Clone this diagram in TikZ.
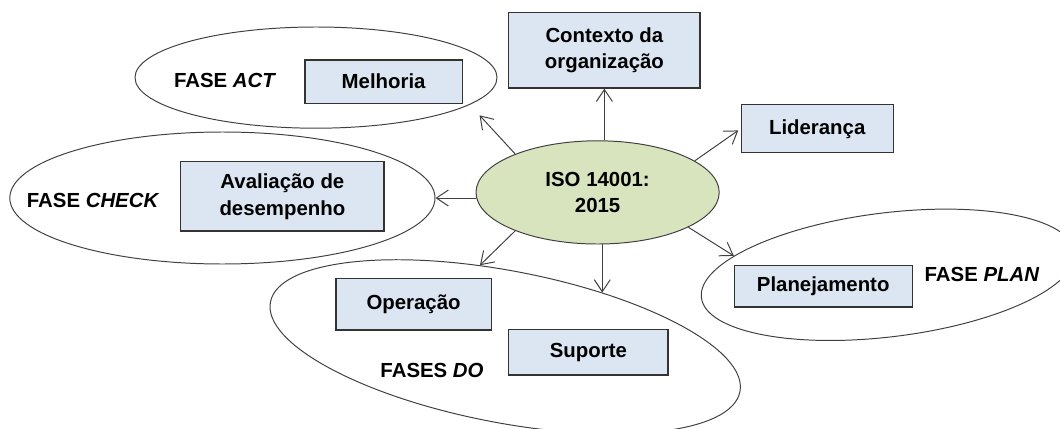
\documentclass[tikz,border=0pt]{standalone}
\usepackage{fontspec}
\setmainfont{Liberation Sans}
\usepackage{xcolor}
\usepackage{tikz}
\usetikzlibrary{shapes.geometric, arrows.meta, positioning, calc}
\definecolor{boxblue}{HTML}{DCE6F2}
\definecolor{isogreen}{HTML}{D7E4BD}
\tikzstyle{block} = [rectangle, draw=black!80, line width=0.9pt, fill=boxblue, text centered, align=center, inner sep=0pt]
\tikzstyle{phase} = [ellipse, draw=black!75, line width=0.7pt, inner sep=0pt]
\tikzstyle{arrow} = [line width=0.7pt, draw=black!75, ->, >={Straight Barb[length=3mm, width=4mm]}]

\begin{document}
\begin{tikzpicture}[font=\fontsize{14.5}{19}\selectfont\bfseries]
    \useasboundingbox (0,0) rectangle (26.5,10.7);

    % Phase ellipses
    \node[phase, minimum width=9.05cm, minimum height=2.53cm] (act) at (7.9, 8.76) {};
    \node[phase, minimum width=10.63cm, minimum height=3.3cm] (chk) at (5.56, 5.75) {};
    \node[phase, minimum width=11.95cm, minimum height=3.8cm, rotate=-10.8] (do) at (12.63, 2.03) {};
    \node[phase, minimum width=9.4cm, minimum height=3.1cm, rotate=7] (plan) at (22.2, 3.83) {};

    % Phase labels
    \node (actlabel) at (5.63, 8.68) {FASE \textit{ACT}};
    \node (chklabel) at (2.33, 5.7) {FASE \textit{CHECK}};
    \node (dolabel) at (10.8, 1.45) {FASES \textit{DO}};
    \node (planlabel) at (24.55, 3.85) {FASE \textit{PLAN}};

    % Centre
    \node[ellipse, draw=black!75, line width=0.7pt, fill=isogreen, minimum width=6.08cm, minimum height=2.58cm, align=center, inner sep=0pt] (iso) at (14.94, 5.89) {ISO 14001:\\2015};

    % Clauses
    \node[block, minimum width=4.78cm, minimum height=1.88cm] (ctx) at (15.11, 9.44) {Contexto da\\organização};
    \node[block, minimum width=3.8cm, minimum height=1.2cm] (lid) at (20.43, 7.48) {Liderança};
    \node[block, minimum width=3.93cm, minimum height=1.08cm] (mel) at (9.59, 8.66) {Melhoria};
    \node[block, minimum width=5.08cm, minimum height=1.73cm] (ava) at (7.06, 5.79) {Avaliação de\\desempenho};
    \node[block, minimum width=4.45cm, minimum height=1.03cm] (pla) at (20.58, 3.54) {Planejamento};
    \node[block, minimum width=3.88cm, minimum height=1.28cm] (ope) at (10.34, 3.09) {Operação};
    \node[block, minimum width=3.98cm, minimum height=1.13cm] (sup) at (14.71, 1.89) {Suporte};

    % Arrows from the centre
    \draw[arrow] (ctx.south |- iso.north) -- (ctx.south);
    \draw[arrow, shorten >=0.36cm] (iso.155) -- (act.-10);
    \draw[arrow] (chk.east -| iso.west) -- (chk.east);
    \draw[arrow, shorten >=2pt] (iso.18) -- (lid.west);
    \draw[arrow] (iso.205) -- (do.118);
    \draw[arrow] (do.40 |- iso.south) -- (do.40);
    \draw[arrow] (iso.-21) -- (plan.166);
\end{tikzpicture}
\end{document}
